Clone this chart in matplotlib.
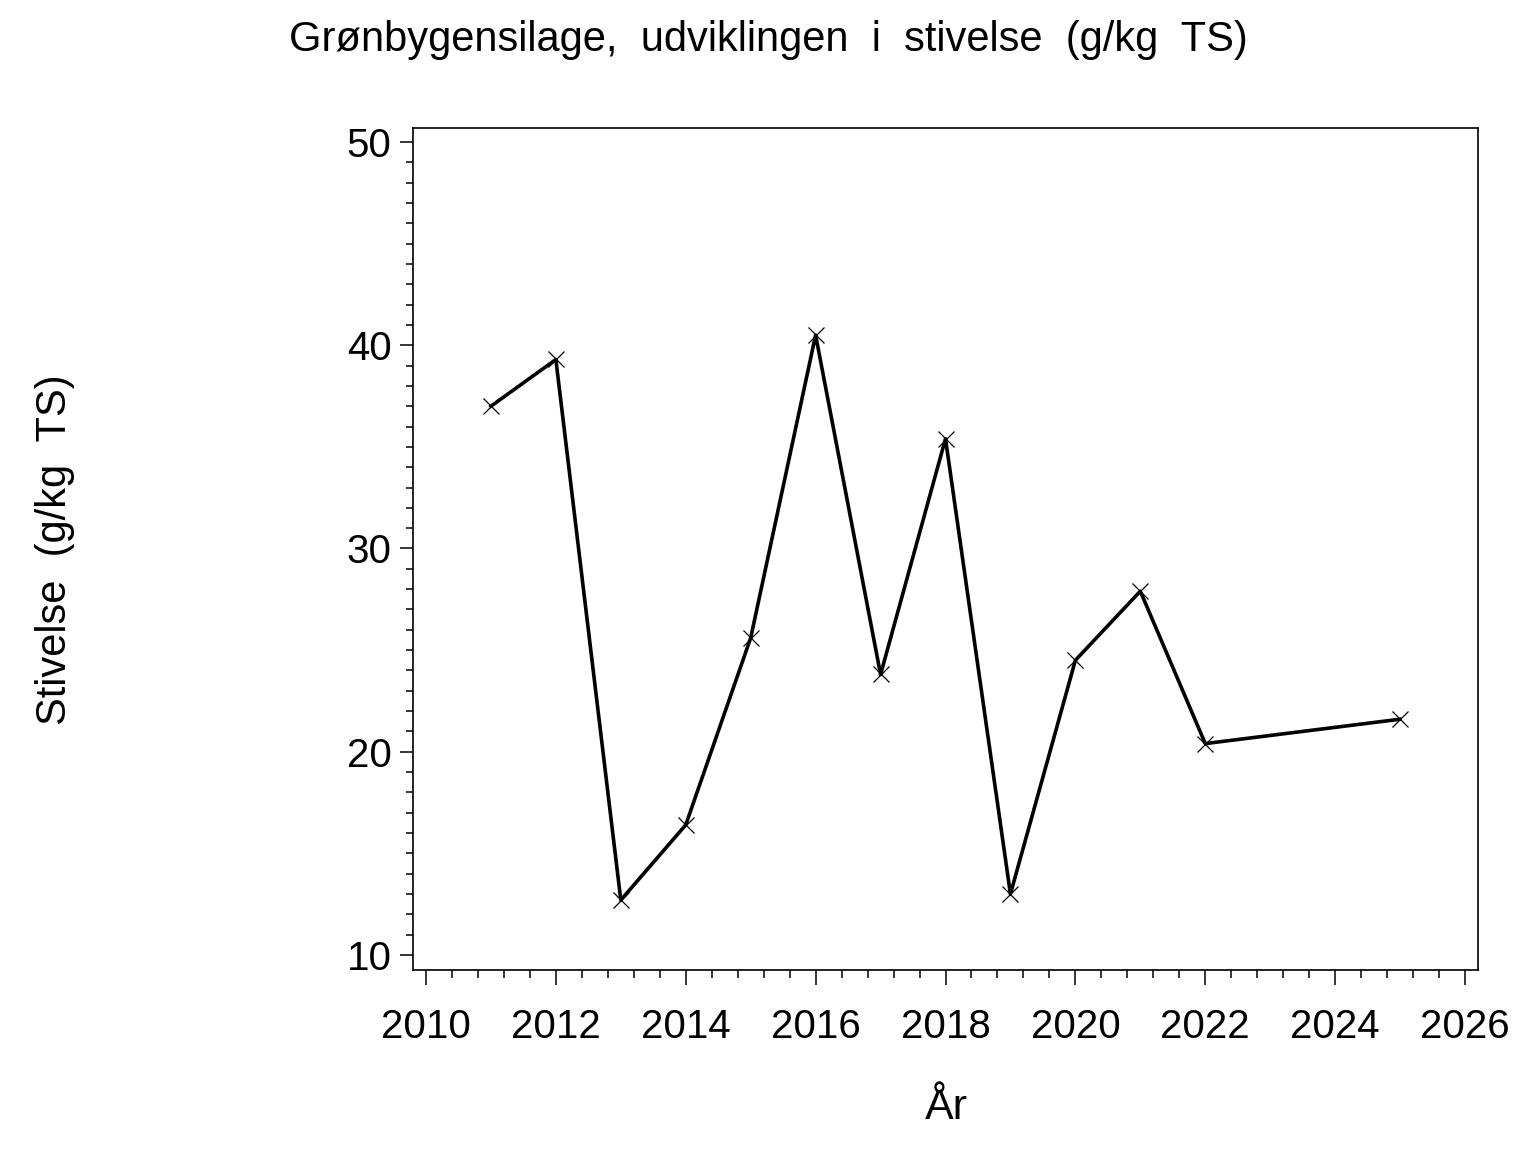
import numpy as np
import matplotlib.pyplot as plt
from matplotlib.ticker import MultipleLocator

plt.rcParams['font.family'] = ['Liberation Sans', 'DejaVu Sans']

# ---------- Data ----------
years = [2011, 2012, 2013, 2014, 2015, 2016, 2017, 2018, 2019, 2020, 2021, 2022, 2025]
stivelse = [37.0, 39.3, 12.7, 16.4, 25.6, 40.5, 23.8, 35.4, 13.0, 24.5, 27.9, 20.4, 21.6]

# ---------- Plot ----------
fig = plt.figure(figsize=(15.36, 11.52), dpi=100)
ax = fig.add_axes([413 / 1536, 182 / 1152, 1065 / 1536, 842 / 1152])

ax.plot(years, stivelse, color='black', linewidth=2.6,
        marker='x', markersize=11, markeredgewidth=0.9)

ax.set_xlim(2009.8, 2026.2)
ax.set_ylim(9.26, 50.69)
ax.xaxis.set_major_locator(MultipleLocator(2))
ax.xaxis.set_minor_locator(MultipleLocator(0.4))
ax.yaxis.set_major_locator(MultipleLocator(10))
ax.yaxis.set_minor_locator(MultipleLocator(1))

for s in ax.spines.values():
    s.set_linewidth(1.2)

ax.tick_params(axis='x', which='major', length=11, width=1.1, labelsize=29, pad=16)
ax.tick_params(axis='x', which='minor', length=5.5, width=1.1)
ax.tick_params(axis='y', which='major', length=9.5, width=1.1, labelsize=29, pad=6)
ax.tick_params(axis='y', which='minor', length=5, width=1.1)

fig.text(0.5, 1 - 40 / 1152, 'Grønbygensilage,  udviklingen  i  stivelse  (g/kg  TS)',
         ha='center', va='center', fontsize=30)
fig.text(946 / 1536, 1 - 1108 / 1152, 'År', ha='center', va='center', fontsize=31)
fig.text(55 / 1536, 1 - 550 / 1152, 'Stivelse  (g/kg  TS)', ha='center', va='center',
         fontsize=30, rotation=90)

fig.savefig('out.png', dpi=100)
